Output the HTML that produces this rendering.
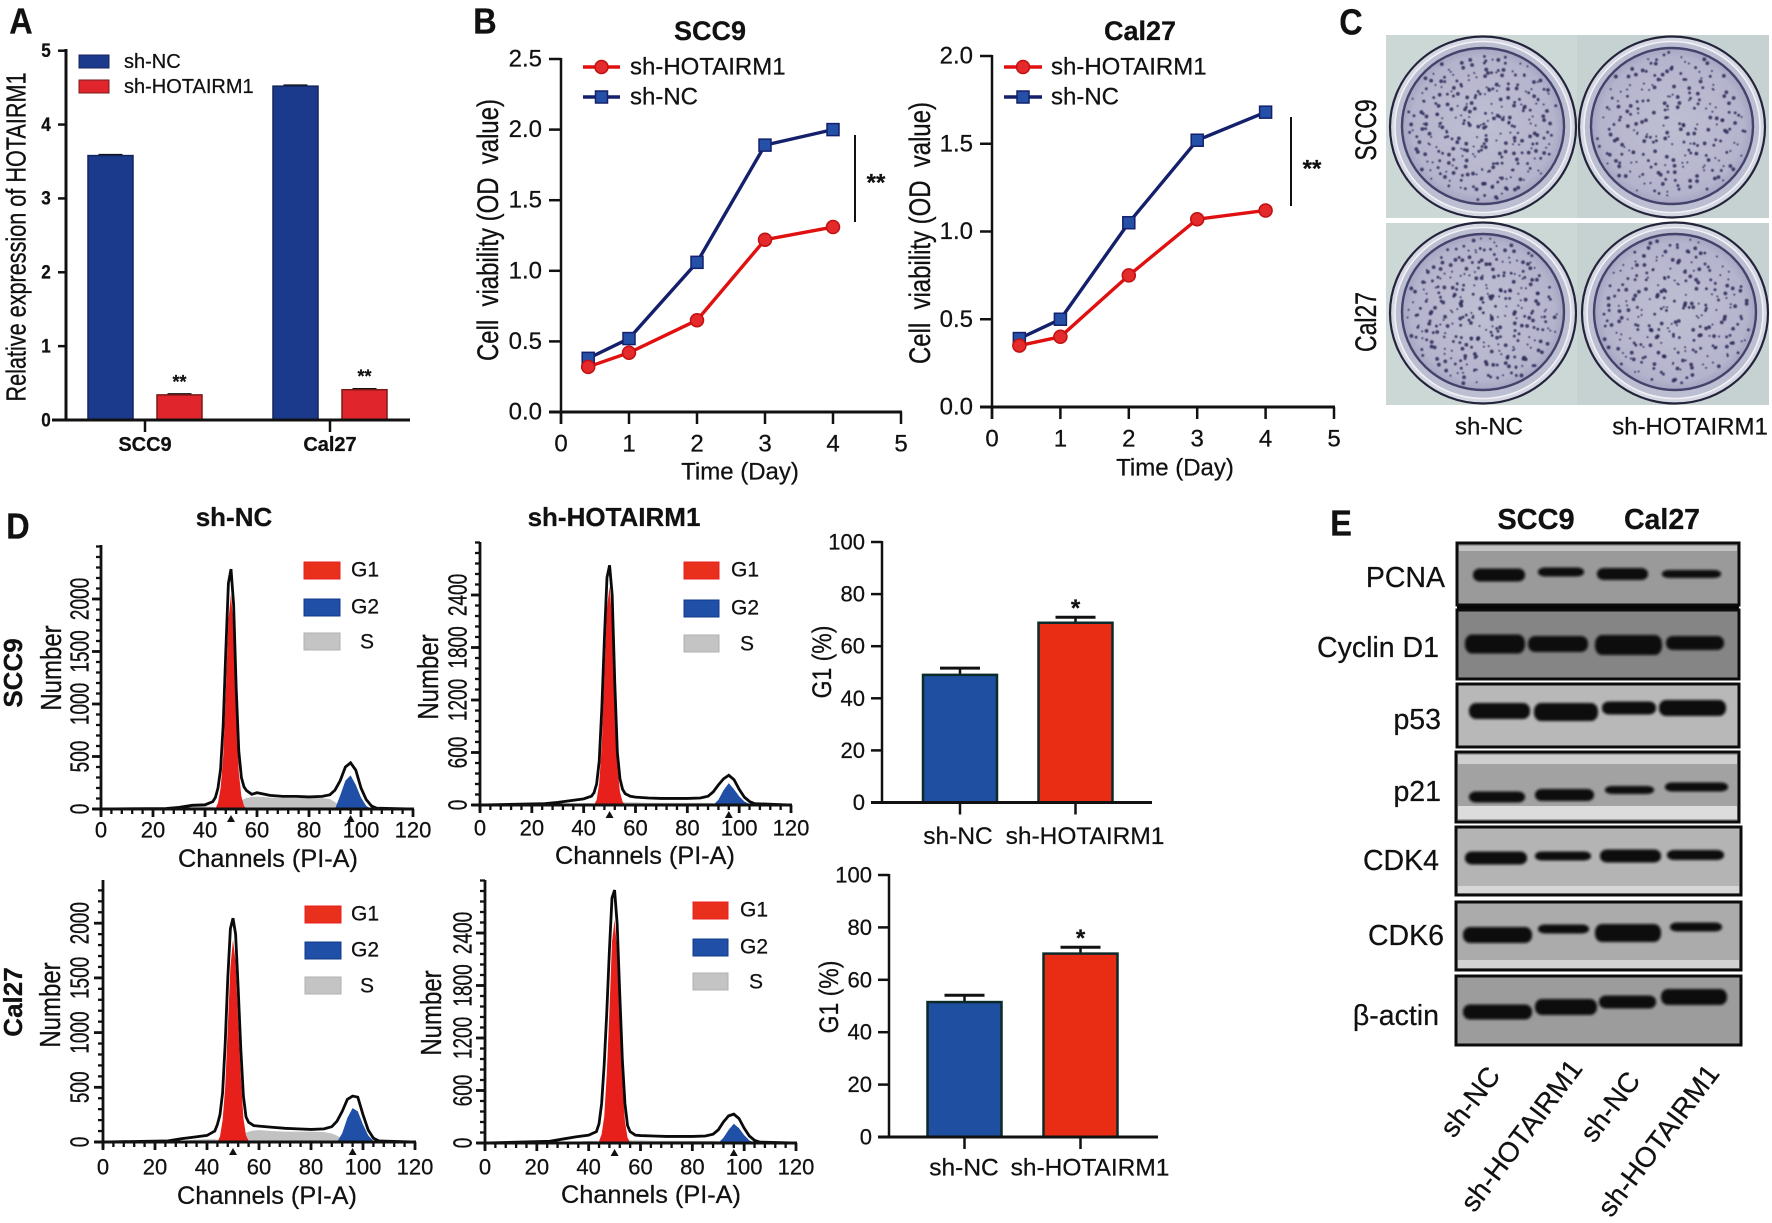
<!DOCTYPE html>
<html lang="en">
<head>
<meta charset="utf-8">
<title>HOTAIRM1 knockdown figure</title>
<style>
html,body{margin:0;padding:0;background:#fff;width:1772px;height:1223px;overflow:hidden}
svg{display:block}
text{font-family:"Liberation Sans",sans-serif;fill:#111;stroke:#111;stroke-width:.25px}
</style>
</head>
<body>
<svg id="fig" xmlns="http://www.w3.org/2000/svg" width="1772" height="1223" viewBox="0 0 1772 1223">
  <defs>
    <filter id="blur1" x="-20%" y="-60%" width="140%" height="220%"><feGaussianBlur stdDeviation="1.3"/></filter>
    <filter id="blur0" x="-50%" y="-50%" width="200%" height="200%"><feGaussianBlur stdDeviation="0.6"/></filter>
    <radialGradient id="dishFill" cx="50%" cy="50%" r="55%">
      <stop offset="0%" stop-color="#bfbfd3"/><stop offset="80%" stop-color="#b5b4cd"/><stop offset="100%" stop-color="#9a98b8"/>
    </radialGradient>
  </defs>
  <g id="panelA"></g>
  <g id="panelB1"></g>
  <g id="panelB2"></g>
  <g id="panelC"></g>
  <g id="panelD"></g>
  <g id="panelE"></g>
</svg>
<script>
/* ---------- Panel A data ---------- */
const aCategories = ['SCC9', 'Cal27'];
const aSeriesNC = [3.58, 4.52];
const aSeriesHOT = [0.34, 0.41];
const aTicks = [0, 1, 2, 3, 4, 5];

/* ---------- Panel B data ---------- */
const days = [0.4, 1, 2, 3, 4];
const bDayTicks = [0, 1, 2, 3, 4, 5];
const scc9NC = [0.38, 0.52, 1.06, 1.89, 2.0];
const scc9HOT = [0.32, 0.42, 0.65, 1.22, 1.31];
const cal27NC = [0.39, 0.5, 1.05, 1.52, 1.68];
const cal27HOT = [0.35, 0.4, 0.75, 1.07, 1.12];
const scc9YTicks = ['0.0', '0.5', '1.0', '1.5', '2.0', '2.5'];
const cal27YTicks = ['0.0', '0.5', '1.0', '1.5', '2.0'];

/* ---------- Panel D histogram data ---------- */
const histChannels = [0,25,30,35,40,43,44,45,46,47,48,49,50,51,52,53,54,55,56,58,60,65,70,75,80,85,88,90,92,94,96,98,100,102,104,106,120];
const channelTicks = [0, 20, 40, 60, 80, 100, 120];
const h1Total = [0,5,15,35,40,70,110,200,380,800,1500,2150,2285,1950,1150,550,300,210,175,140,155,130,120,120,115,120,135,180,270,400,440,370,200,90,30,8,0];
const h1G1 = [0,0,0,0,0,0,0,60,200,500,1100,1800,2050,1700,900,350,120,30,0,0,0,0,0,0,0,0,0,0,0,0,0,0,0,0,0,0,0];
const h1G2 = [0,0,0,0,0,0,0,0,0,0,0,0,0,0,0,0,0,0,0,0,0,0,0,0,0,0,0,0,130,270,320,230,110,30,0,0,0];
const h1S = [0,0,10,25,25,20,15,10,10,10,10,10,15,30,45,60,80,95,105,115,118,110,105,105,105,105,95,65,30,15,5,0,0,0,0,0,0];
const h2Total = [0,15,30,50,70,100,140,240,500,1100,1900,2600,2740,2400,1400,600,300,180,130,100,90,80,75,75,75,80,100,150,230,300,340,290,180,90,40,15,0];
const h2G1 = [0,0,0,0,0,0,0,60,250,700,1500,2250,2500,2100,1200,450,150,40,0,0,0,0,0,0,0,0,0,0,0,0,0,0,0,0,0,0,0];
const h2G2 = [0,0,0,0,0,0,0,0,0,0,0,0,0,0,0,0,0,0,0,0,0,0,0,0,0,0,0,0,60,170,250,180,100,40,10,0,0];
const h2S = [0,0,5,10,20,20,15,10,10,10,10,10,10,15,20,25,30,30,30,30,30,25,25,25,25,25,25,20,15,10,5,0,0,0,0,0,0];
const h3Total = [0,10,30,45,60,100,160,250,450,900,1500,1950,2045,1900,1400,850,420,230,180,150,145,135,125,120,115,120,140,190,280,390,420,410,250,110,35,10,0];
const h3G1 = [0,0,0,0,0,0,0,50,200,500,1050,1600,1850,1650,1100,600,220,60,10,0,0,0,0,0,0,0,0,0,0,0,0,0,0,0,0,0,0];
const h3G2 = [0,0,0,0,0,0,0,0,0,0,0,0,0,0,0,0,0,0,0,0,0,0,0,0,0,0,0,0,80,220,310,280,160,60,10,0,0];
const h3S = [0,0,10,20,25,25,20,15,10,10,10,10,15,25,40,55,70,85,95,105,108,100,95,95,95,90,78,58,30,15,5,0,0,0,0,0,0];
const h4Total = [0,20,45,70,90,130,220,450,900,1500,2200,2800,2890,2500,1700,950,450,200,130,90,85,80,75,75,75,80,100,150,240,310,330,280,170,80,30,10,0];
const h4G1 = [0,0,0,0,0,0,20,100,300,800,1500,2300,2550,2200,1450,700,250,60,10,0,0,0,0,0,0,0,0,0,0,0,0,0,0,0,0,0,0];
const h4G2 = [0,0,0,0,0,0,0,0,0,0,0,0,0,0,0,0,0,0,0,0,0,0,0,0,0,0,0,0,60,150,220,170,90,30,5,0,0];
const h4S = [0,0,5,15,25,25,15,10,10,10,10,10,10,15,20,25,30,30,30,30,30,25,25,25,25,25,25,20,15,10,5,0,0,0,0,0,0];
const nc500Ticks = [0, 500, 1000, 1500, 2000];
const hot600Ticks = [0, 600, 1200, 1800, 2400];

/* ---------- Panel D G1 bars data ---------- */
const g1Categories = ['sh-NC', 'sh-HOTAIRM1'];
const g1Scc9 = [49, 69];
const g1Scc9Err = [2.6, 2.1];
const g1Cal27 = [51.5, 70];
const g1Cal27Err = [2.6, 2.4];
const g1Ticks = [0, 20, 40, 60, 80, 100];

/* ---------- helpers ---------- */
const NS = 'http://www.w3.org/2000/svg';
function el(tag, parent, attrs, name) {
  const e = document.createElementNS(NS, tag);
  for (const k in attrs) e.setAttribute(k, attrs[k]);
  
  
  parent.appendChild(e);
  return e;
}
function scale(d0, d1, r0, r1) { return v => r0 + (v - d0) * (r1 - r0) / (d1 - d0); }
function txt(p, s, x, y, o, name) {
  o = o || {};
  const a = {
    'font-size': o.size || 20,
    'font-weight': o.bold ? 'bold' : 'normal',
    'text-anchor': o.a || 'middle',
    'dominant-baseline': 'central',
    transform: 'translate(' + x + ',' + y + ') rotate(' + (o.rot || 0) + ') scale(' + (o.sx || 1) + ',' + (o.sy || 1) + ')'
  };
  if (o.len) { a.textLength = o.len; a.lengthAdjust = 'spacingAndGlyphs'; }
  const e = el('text', p, a, name);
  e.textContent = s;
  return e;
}
function line(p, x1, y1, x2, y2, w, c, name) {
  return el('line', p, { x1: x1, y1: y1, x2: x2, y2: y2, stroke: c || '#111', 'stroke-width': w || 2 }, name);
}
function rect(p, x, y, w, h, fill, stroke, sw, name) {
  return el('rect', p, { x: x, y: y, width: w, height: h, fill: fill, stroke: stroke || 'none', 'stroke-width': sw || 0 }, name);
}
const $ = id => document.getElementById(id);

/* ---------- Panel letters ---------- */
const root = $('fig');
[['A', 21, 22], ['B', 485, 22], ['C', 1351, 23], ['D', 18, 527], ['E', 1341, 524]].forEach(l => {
  txt(root, l[0], l[1], l[2], { size: 36, bold: true, sx: .9 }, 'panel-label-' + l[0].toLowerCase());
});

/* ---------- Panel A ---------- */
(function () {
  const g = $('panelA');
  const Y = scale(0, 5, 420, 50.7);
  const groupX = [145, 330];
  const barW = 45, off = 34.5;
  aCategories.forEach((c, i) => {
    const y1 = Y(aSeriesNC[i]), y2 = Y(aSeriesHOT[i]);
    line(g, groupX[i] - off - 12, y1 - 1, groupX[i] - off + 12, y1 - 1, 1.5, '#111', 'error-cap-nc');
    line(g, groupX[i] + off - 12, y2 - 1, groupX[i] + off + 12, y2 - 1, 1.5, '#111', 'error-cap-hot');
    rect(g, groupX[i] - off - barW / 2, y1, barW, 420 - y1, '#1b3a8c', '#14245c', 1.5, 'bar-nc-' + c.toLowerCase());
    rect(g, groupX[i] + off - barW / 2, y2, barW, 420 - y2, '#e0262c', '#7a1a1a', 1.5, 'bar-hot-' + c.toLowerCase());
    txt(g, '**', groupX[i] + off, y2 - 13, { size: 18, bold: true }, 'significance-a');
    line(g, groupX[i], 420, groupX[i], 432, 2.5, '#111', 'x-tick');
    txt(g, c, groupX[i], 445, { size: 20, bold: true }, 'x-label-' + c.toLowerCase());
  });
  line(g, 66, 49, 66, 421.5, 3, '#111', 'y-axis');
  line(g, 52, 420, 410, 420, 3, '#111', 'x-axis');
  aTicks.forEach(t => {
    line(g, 58, Y(t), 66, Y(t), 2.5, '#111', 'y-tick');
    txt(g, String(t), 46, Y(t), { size: 19, bold: true, sx: .9 }, 'y-tick-label');
  });
  txt(g, 'Relative expression of HOTAIRM1', 17, 237, { size: 21, rot: -90, len: 329, sy: 1.32 }, 'y-axis-title');
  rect(g, 79, 55, 30, 13, '#1b3a8c', '#14245c', 1, 'legend-swatch-nc');
  rect(g, 79, 80, 30, 13, '#e0262c', '#7a1a1a', 1, 'legend-swatch-hot');
  txt(g, 'sh-NC', 124, 62, { size: 20, a: 'start' }, 'legend-label-nc');
  txt(g, 'sh-HOTAIRM1', 124, 87, { size: 20, a: 'start' }, 'legend-label-hot');
})();

/* ---------- Panel B ---------- */
function drawViability(g, o, ncVals, hotVals, yTicks) {
  const X = scale(0, 5, o.x0, o.x5), Y = scale(0, o.ymax, o.y0, o.ytop);
  line(g, o.x0, o.ytop - 1, o.x0, o.y0 + 12, 2.5, '#111', 'y-axis');
  line(g, o.x0 - 12, o.y0, o.x5 + 1, o.y0, 3, '#111', 'x-axis');
  yTicks.forEach(t => {
    const y = Y(+t);
    line(g, o.x0 - 12, y, o.x0, y, 2.5, '#111', 'y-tick');
    txt(g, t, o.x0 - 19, y, { size: 24, a: 'end' }, 'y-tick-label');
  });
  bDayTicks.forEach(t => {
    line(g, X(t), o.y0, X(t), o.y0 + 12, 2.5, '#111', 'x-tick');
    txt(g, String(t), X(t), o.y0 + 32, { size: 24 }, 'x-tick-label');
  });
  const poly = vals => days.map((d, i) => X(d) + ',' + Y(vals[i])).join(' ');
  el('polyline', g, { points: poly(ncVals), fill: 'none', stroke: '#14206b', 'stroke-width': 3.4 }, 'line-sh-nc');
  el('polyline', g, { points: poly(hotVals), fill: 'none', stroke: '#e01010', 'stroke-width': 3.4 }, 'line-sh-hotairm1');
  days.forEach((d, i) => {
    rect(g, X(d) - 6, Y(ncVals[i]) - 6, 12, 12, '#2450a8', '#14206b', 1.5, 'point-sh-nc');
  });
  days.forEach((d, i) => {
    el('circle', g, { cx: X(d), cy: Y(hotVals[i]), r: 6.5, fill: '#e42a2a', stroke: '#c01010', 'stroke-width': 1.5 }, 'point-sh-hotairm1');
  });
  txt(g, o.title, o.titleX, 31, { size: 27, bold: true }, 'chart-title');
  txt(g, 'Cell\u00a0\u00a0viability\u00a0(OD\u00a0\u00a0value)', o.ylabX, o.ylabY, { size: 23, rot: -90, len: 262, sy: 1.3 }, 'y-axis-title');
  txt(g, 'Time (Day)', o.timeX, o.timeY, { size: 24 }, 'x-axis-title');
  line(g, o.lx0, 67, o.lx1, 67, 3.4, '#e01010', 'legend-line-hot');
  el('circle', g, { cx: (o.lx0 + o.lx1) / 2, cy: 67, r: 6.5, fill: '#e42a2a', stroke: '#c01010', 'stroke-width': 1.5 }, 'legend-marker-hot');
  txt(g, 'sh-HOTAIRM1', o.lt, 67, { size: 24, a: 'start' }, 'legend-label-hot');
  line(g, o.lx0, 97, o.lx1, 97, 3.4, '#14206b', 'legend-line-nc');
  rect(g, (o.lx0 + o.lx1) / 2 - 6, 91, 12, 12, '#2450a8', '#14206b', 1.5, 'legend-marker-nc');
  txt(g, 'sh-NC', o.lt, 97, { size: 24, a: 'start' }, 'legend-label-nc');
  line(g, o.sigX, o.sigY0, o.sigX, o.sigY1, 2, '#111', 'significance-bracket');
  txt(g, '**', o.sigX + 21, o.sigYm + 3, { size: 24, bold: true }, 'significance-stars');
}
drawViability($('panelB1'), { x0: 561, x5: 901, y0: 412, ytop: 59, ymax: 2.5, title: 'SCC9', titleX: 710, ylabX: 488, ylabY: 230, timeX: 740, timeY: 472, lx0: 583, lx1: 620, lt: 630, sigX: 855, sigY0: 135, sigY1: 222, sigYm: 180 }, scc9NC, scc9HOT, scc9YTicks);
drawViability($('panelB2'), { x0: 992, x5: 1334, y0: 407, ytop: 56, ymax: 2.0, title: 'Cal27', titleX: 1140, ylabX: 920, ylabY: 233, timeX: 1175, timeY: 468, lx0: 1004, lx1: 1042, lt: 1051, sigX: 1291, sigY0: 117, sigY1: 206, sigYm: 166 }, cal27NC, cal27HOT, cal27YTicks);

/* ---------- Panel C (photo of colony dishes) ---------- */
(function () {
  const g = $('panelC');
  const cells = [
    [1386, 35, 191, 183, 1483, 127, 3.1, 300],
    [1577, 35, 192, 183, 1672, 127, 1.3, 230],
    [1386, 223, 191, 182, 1483, 313, 5.2, 310],
    [1577, 223, 192, 182, 1675, 313, 0.4, 250]
  ];
  cells.forEach((c, n) => {
    rect(g, c[0], c[1], c[2], c[3], n % 2 ? '#c6d2d1' : '#ccd8d6', 'none', 0, 'photo-background');
    const d = el('g', g, {}, 'colony-dish');
    el('ellipse', d, { cx: c[4], cy: c[5], rx: 93, ry: 90.5, fill: '#d5d7e2', stroke: '#23233a', 'stroke-width': 2.2 }, 'dish-rim');
    el('ellipse', d, { cx: c[4], cy: c[5], rx: 88, ry: 85.5, fill: '#bcbfd1', stroke: '#f0f0f6', 'stroke-width': 1.6 }, 'dish-wall');
    el('ellipse', d, { cx: c[4], cy: c[5] - 1, rx: 81, ry: 78, fill: 'url(#dishFill)', stroke: '#45426c', 'stroke-width': 2.4 }, 'dish-plate');
    const dots = el('g', d, { filter: 'url(#blur0)' }, 'colony-spots');
    for (let i = 1; i <= c[7]; i++) {
      const a = i * 2.39996 + c[6] + 0.55 * Math.sin(i * 7.13 + c[6]);
      const r = Math.min(0.97, Math.sqrt(i / c[7]) * 0.95 + 0.07 * Math.sin(i * 12.9898 + c[6]));
      el('circle', dots, { cx: c[4] + Math.cos(a) * r * 78, cy: c[5] - 1 + Math.sin(a) * r * 76, r: 1 + (i % 3) * 0.45, fill: '#2f2a58', opacity: 0.85 }, 'colony-spot');
    }
  });
  txt(g, 'SCC9', 1366, 130, { size: 23, rot: -90, sy: 1.3 }, 'row-label-scc9');
  txt(g, 'Cal27', 1366, 322, { size: 23, rot: -90, sy: 1.3 }, 'row-label-cal27');
  txt(g, 'sh-NC', 1489, 427, { size: 24 }, 'column-label-sh-nc');
  txt(g, 'sh-HOTAIRM1', 1690, 427, { size: 24 }, 'column-label-sh-hotairm1');
})();

/* ---------- Panel D histograms ---------- */
function drawHist(g, o, total, g1, g2, s, yTicks, minorStep) {
  const X = scale(0, 120, o.x0, o.x1), Y = scale(0, yTicks[1], o.y0, o.yT1);
  const area = vals => {
    let d = 'M' + X(histChannels[0]) + ',' + o.y0;
    histChannels.forEach((c, i) => { d += 'L' + X(c) + ',' + Y(vals[i]); });
    return d + 'L' + X(histChannels[histChannels.length - 1]) + ',' + o.y0 + 'Z';
  };
  el('path', g, { d: area(s), fill: '#c2c2c2' }, 'area-s-phase');
  el('path', g, { d: area(g1), fill: '#e8201c' }, 'area-g1-phase');
  el('path', g, { d: area(g2), fill: '#1f4fa6' }, 'area-g2-phase');
  el('polyline', g, { points: histChannels.map((c, i) => X(c) + ',' + Y(total[i])).join(' '), fill: 'none', stroke: '#0a0a0a', 'stroke-width': 2.8 }, 'line-total-fit');
  line(g, o.x0, o.top, o.x0, o.y0 + 6, 2.8, '#111', 'y-axis');
  line(g, o.x0 - 8, o.y0, o.x1 + 1, o.y0, 3, '#111', 'x-axis');
  for (let c = 0; c <= 120; c += 4) {
    const major = c % 20 === 0;
    line(g, X(c), o.y0, X(c), o.y0 + (major ? 8 : 5), major ? 2.8 : 2.3, '#111', major ? 'x-major-tick' : 'x-minor-tick');
  }
  const ymax = (o.y0 - o.top) / (o.y0 - o.yT1) * yTicks[1];
  for (let v = 0; v <= ymax; v += minorStep) {
    line(g, o.x0 - 5, Y(v), o.x0, Y(v), 2.3, '#111', 'y-minor-tick');
  }
  yTicks.forEach(t => {
    line(g, o.x0 - 9, Y(t), o.x0, Y(t), 2.8, '#111', 'y-major-tick');
    txt(g, String(t), o.tickX, Y(t), { size: 19, rot: -90, sy: 1.35 }, 'y-tick-label');
  });
  channelTicks.forEach(t => {
    txt(g, String(t), X(t), o.tickY, { size: 22 }, 'x-tick-label');
  });
  [50, 96].forEach(c => {
    el('path', g, { d: 'M' + (X(c) - 4) + ',' + (o.y0 + 13) + 'h8l-4,-7z', fill: '#111' }, 'peak-marker');
  });
  txt(g, 'Number', o.numX, o.numY, { size: 24, rot: -90, sy: 1.2 }, 'y-axis-title');
  txt(g, 'Channels (PI-A)', o.labX, o.labY, { size: 25, len: 180 }, 'x-axis-title');
  const sw = o.legX1 - o.legX0;
  rect(g, o.legX0, o.leg[0], sw, 17, '#e8301c', '#e8201c', 1, 'legend-swatch-g1');
  rect(g, o.legX0, o.leg[1], sw, 17, '#1f4fa6', '#123a88', 1, 'legend-swatch-g2');
  rect(g, o.legX0, o.leg[2], sw, 17, '#c4c4c4', '#b0b0b0', 1, 'legend-swatch-s');
  txt(g, 'G1', o.legT, o.leg[0] + 8, { size: 21, a: 'start' }, 'legend-label-g1');
  txt(g, 'G2', o.legT, o.leg[1] + 8, { size: 21, a: 'start' }, 'legend-label-g2');
  txt(g, 'S', o.legT + 16, o.leg[2] + 9, { size: 21 }, 'legend-label-s');
}
(function () {
  const g = $('panelD');
  txt(g, 'sh-NC', 234, 517, { size: 26, bold: true }, 'column-title-sh-nc');
  txt(g, 'sh-HOTAIRM1', 614, 517, { size: 26, bold: true }, 'column-title-sh-hotairm1');
  txt(g, 'SCC9', 13, 673, { size: 26, bold: true, rot: -90 }, 'row-label-scc9');
  txt(g, 'Cal27', 13, 1002, { size: 26, bold: true, rot: -90 }, 'row-label-cal27');
  const h1 = el('g', g, {}, 'histogram-scc9-sh-nc');
  drawHist(h1, { x0: 101, x1: 413, y0: 809, yT1: 756.5, top: 545, tickX: 80, tickY: 830, numX: 51, numY: 668, labX: 268, labY: 859, legX0: 304, legX1: 340, leg: [562, 599, 633], legT: 351 }, h1Total, h1G1, h1G2, h1S, nc500Ticks, 100);
  const h2 = el('g', g, {}, 'histogram-scc9-sh-hotairm1');
  drawHist(h2, { x0: 480, x1: 791, y0: 805, yT1: 752.5, top: 542, tickX: 458, tickY: 828, numX: 428, numY: 677, labX: 645, labY: 856, legX0: 684, legX1: 719, leg: [562, 600, 635], legT: 731 }, h2Total, h2G1, h2G2, h2S, hot600Ticks, 120);
  const h3 = el('g', g, {}, 'histogram-cal27-sh-nc');
  drawHist(h3, { x0: 103, x1: 415, y0: 1142, yT1: 1087.3, top: 880, tickX: 80, tickY: 1167, numX: 50, numY: 1005, labX: 267, labY: 1196, legX0: 305, legX1: 341, leg: [906, 942, 977], legT: 351 }, h3Total, h3G1, h3G2, h3S, nc500Ticks, 100);
  const h4 = el('g', g, {}, 'histogram-cal27-sh-hotairm1');
  drawHist(h4, { x0: 485, x1: 796, y0: 1143, yT1: 1090.5, top: 880, tickX: 463, tickY: 1167, numX: 431, numY: 1013, labX: 651, labY: 1195, legX0: 693, legX1: 728, leg: [902, 939, 973], legT: 740 }, h4Total, h4G1, h4G2, h4S, hot600Ticks, 120);
})();

/* ---------- Panel D G1 bar charts ---------- */
function drawG1(g, o, vals, errs) {
  const Y = scale(0, 100, o.y0, o.y100);
  const cols = ['#1f4fa0', '#e92d14'];
  vals.forEach((v, i) => {
    const cx = o.cx[i], y = Y(v), ye = Y(v + errs[i]);
    line(g, cx, y, cx, ye, 2.5, '#111', 'error-bar');
    line(g, cx - 20, ye, cx + 20, ye, 3, '#111', 'error-cap');
    rect(g, cx - 37, y, 74, o.y0 - y, cols[i], '#0d2a2a', 2.5, 'bar-' + g1Categories[i].toLowerCase());
    line(g, cx, o.y0, cx, o.y0 + 12, 2.5, '#111', 'x-tick');
    txt(g, g1Categories[i], o.labX[i], o.labY, { size: 24.5 }, 'x-label-' + g1Categories[i].toLowerCase());
  });
  txt(g, '*', o.cx[1], Y(vals[1] + errs[1]) - 14 + 5, { size: 24, bold: true }, 'significance-star');
  line(g, o.x, o.y100 - 1, o.x, o.y0 + 1, 2.5, '#111', 'y-axis');
  line(g, o.x - 11, o.y0, o.xEnd, o.y0, 3, '#111', 'x-axis');
  g1Ticks.forEach(t => {
    line(g, o.x - 11, Y(t), o.x, Y(t), 2.5, '#111', 'y-tick');
    txt(g, String(t), o.x - 17, Y(t), { size: 22, a: 'end' }, 'y-tick-label');
  });
  txt(g, 'G1\u00a0(%)', o.titleX, o.titleY, { size: 23, rot: -90, sy: 1.15 }, 'y-axis-title');
}
(function () {
  const g = $('panelD');
  const c1 = el('g', g, {}, 'g1-bars-scc9');
  drawG1(c1, { x: 882, xEnd: 1152, y0: 802.5, y100: 542, cx: [960, 1075.5], labX: [958, 1085], labY: 836.5, titleX: 823, titleY: 662 }, g1Scc9, g1Scc9Err);
  const c2 = el('g', g, {}, 'g1-bars-cal27');
  drawG1(c2, { x: 889, xEnd: 1158, y0: 1137, y100: 875, cx: [964.5, 1080.5], labX: [964, 1090], labY: 1168, titleX: 830, titleY: 997 }, g1Cal27, g1Cal27Err);
})();

/* ---------- Panel E western blot ---------- */
(function () {
  const g = $('panelE');
  txt(g, 'SCC9', 1536, 520, { size: 29, bold: true }, 'blot-title-scc9');
  txt(g, 'Cal27', 1662, 520, { size: 28.5, bold: true }, 'blot-title-cal27');
  const blots = [
    { n: 'PCNA', x: 1457, w: 282, y: 543, h: 62, bg: '#9a9a9a', lx: 1445, ly: 578, strips: [[546, 5, '#c4c4c4']],
      b: [[1473, 1525, 575, 11], [1538, 1584, 572, 7], [1597, 1648, 574, 10], [1662, 1721, 574, 6]] },
    { n: 'Cyclin D1', x: 1457, w: 282, y: 610, h: 69, bg: '#858585', lx: 1439, ly: 648, strips: [],
      b: [[1465, 1525, 644, 17], [1528, 1588, 644, 14], [1595, 1662, 645, 18], [1666, 1724, 643, 12]] },
    { n: 'p53', x: 1457, w: 282, y: 684, h: 63, bg: '#b8b8b8', lx: 1441, ly: 720, strips: [],
      b: [[1469, 1530, 711, 14], [1534, 1598, 712, 16], [1602, 1656, 708, 11], [1659, 1726, 708, 14]] },
    { n: 'p21', x: 1456, w: 283, y: 752, h: 70, bg: '#a2a2a2', lx: 1441, ly: 792, strips: [[755, 9, '#cfcfcf'], [806, 13, '#dcdcdc']],
      b: [[1469, 1525, 797, 9], [1535, 1594, 795, 10], [1605, 1654, 790, 6], [1665, 1728, 787, 7]] },
    { n: 'CDK4', x: 1456, w: 285, y: 827, h: 68, bg: '#b4b4b4', lx: 1439, ly: 861, strips: [[886, 7, '#d6d6d6']],
      b: [[1465, 1527, 858, 11], [1535, 1591, 856, 7], [1600, 1661, 856, 11], [1667, 1724, 855, 8]] },
    { n: 'CDK6', x: 1456, w: 285, y: 902, h: 68, bg: '#ababab', lx: 1444, ly: 936, strips: [[960, 8, '#d2d2d2']],
      b: [[1463, 1532, 935, 14], [1538, 1589, 929, 7], [1595, 1661, 933, 16], [1670, 1722, 927, 7]] },
    { n: '\u03b2-actin', x: 1456, w: 285, y: 976, h: 69, bg: '#9c9c9c', lx: 1439, ly: 1016, strips: [],
      b: [[1463, 1532, 1012, 13], [1535, 1597, 1007, 14], [1599, 1656, 1002, 11], [1661, 1727, 997, 14]] }
  ];
  rect(g, 1457, 605, 282, 6, '#060606', 'none', 0, 'blot-separator');
  blots.forEach(b => {
    const s = el('g', g, {}, 'blot-' + b.n.toLowerCase().replace(/[^a-z0-9]+/g, '-'));
    rect(s, b.x, b.y, b.w, b.h, b.bg, '#0c0c0c', 3, 'blot-membrane');
    b.strips.forEach(t => {
      rect(s, b.x + 2, t[0], b.w - 4, t[1], t[2], 'none', 0, 'membrane-light-strip');
    });
    const bands = el('g', s, { filter: 'url(#blur1)' }, 'blot-bands');
    b.b.forEach(q => {
      const h = q[3] + 2;
      el('rect', bands, { x: q[0], y: q[2] - h / 2, width: q[1] - q[0], height: h, rx: 7, ry: h / 2.2, fill: '#0b0b0b' }, 'protein-band');
    });
    txt(s, b.n, b.lx, b.ly, { size: 28.5, a: 'end' }, 'blot-label');
  });
  [[1494, 1070, 'sh-NC'], [1576, 1063, 'sh-HOTAIRM1'], [1634, 1075, 'sh-NC'], [1713, 1068, 'sh-HOTAIRM1']].forEach(l => {
    txt(g, l[2], l[0], l[1], { size: 28, a: 'end', rot: -53 }, 'lane-label');
  });
})();
</script>
</body>
</html>
